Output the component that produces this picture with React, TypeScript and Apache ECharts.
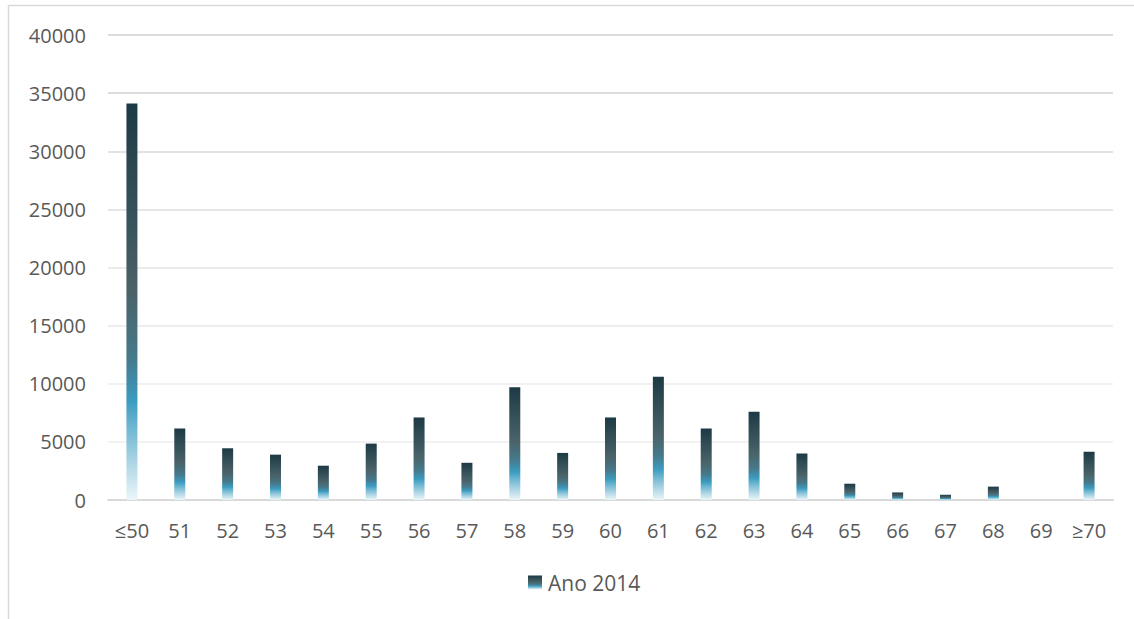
import React, { useEffect, useRef } from "react";
import * as echarts from "echarts";

const categories = ["≤50", "51", "52", "53", "54", "55", "56", "57", "58", "59", "60", "61", "62", "63", "64", "65", "66", "67", "68", "69", "≥70"];
const values2014 = [34100, 6150, 4450, 3900, 2950, 4850, 7100, 3200, 9700, 4050, 7100, 10600, 6150, 7600, 4000, 1400, 650, 450, 1150, 0, 4150];
const seriesName = "Ano 2014";
const yMin = 0;
const yMax = 40000;
const yInterval = 5000;

const FONT = "'Open Sans', 'Liberation Sans', sans-serif";

export default function App() {
  const ref = useRef<HTMLDivElement>(null);
  useEffect(() => {
    if (!ref.current) return;
    const chart = echarts.init(ref.current, null, { renderer: "svg" });
    const grad = new echarts.graphic.LinearGradient(0, 0, 0, 1, [
      { offset: 0, color: "#1c3a45" },
      { offset: 0.47, color: "#4a6268" },
      { offset: 0.64, color: "#46798a" },
      { offset: 0.75, color: "#3b9bc0" },
      { offset: 0.81, color: "#6ab4d0" },
      { offset: 0.9, color: "#a9d3e3" },
      { offset: 1, color: "#ecf6f9" },
    ]);
    chart.setOption({
      animation: false,
      backgroundColor: "#ffffff",
      graphic: [
        {
          type: "rect",
          shape: { x: 8.5, y: 5.5, width: 1200, height: 700 },
          style: { fill: "none", stroke: "#d9d9d9", lineWidth: 1.5 },
          silent: true,
        },
      ],
      grid: { left: 108, right: 21, top: 35, bottom: 119, containLabel: false },
      legend: {
        bottom: 21,
        left: 523,
        icon: "rect",
        itemWidth: 14,
        itemHeight: 14,
        itemGap: 10,
        textStyle: { fontFamily: FONT, fontSize: 21, color: "#595959", padding: [0, 0, 0, 1] },
        data: [seriesName],
      },
      xAxis: {
        type: "category",
        data: categories,
        axisLine: { show: true, lineStyle: { color: "#d9d9d9", width: 2 } },
        axisTick: { show: false },
        axisLabel: { fontFamily: FONT, fontSize: 20, color: "#595959", margin: 20, interval: 0 },
      },
      yAxis: {
        type: "value",
        min: yMin,
        max: yMax,
        interval: yInterval,
        axisLine: { show: false },
        axisTick: { show: false },
        axisLabel: {
          fontFamily: FONT,
          fontSize: 20,
          color: "#595959",
          margin: 22,
          formatter: (v: number) => String(v),
        },
        splitLine: {
          lineStyle: {
            color: ["#d9d9d9", "#eeeeee", "#ececec", "#e8e8e8", "#e4e4e4", "#dedede", "#d8d8d8", "#d2d2d2", "#cfcfcf"],
            width: 1.5,
          },
        },
      },
      series: [
        {
          name: seriesName,
          type: "bar",
          data: values2014,
          barWidth: 11,
          itemStyle: { color: grad },
        },
      ],
    });
    return () => chart.dispose();
  }, []);
  return <div ref={ref} style={{ position: "absolute", left: 0, top: 0, width: 1134, height: 619 }} />;
}
